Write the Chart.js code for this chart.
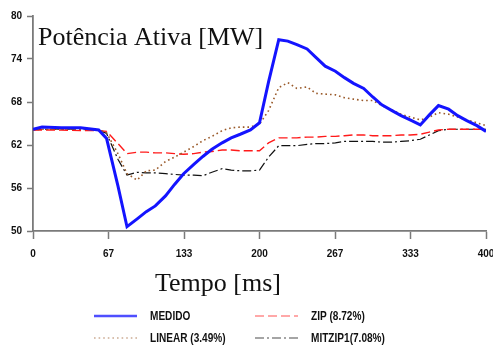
<!DOCTYPE html>
<html>
<head>
<meta charset="utf-8">
<script src="https://cdn.jsdelivr.net/npm/chart.js@4.4.1/dist/chart.umd.min.js"></script>
<style>
  html, body { margin: 0; padding: 0; background: #ffffff; }
  #wrap { width: 493px; height: 347px; position: relative; }
</style>
</head>
<body>
<div id="wrap"><canvas id="chart" width="493" height="347"></canvas></div>
<script>
// Time axis (ms)
const tempo = [0, 8, 25, 42, 58, 65, 75, 83, 92, 100, 108, 117, 125, 133, 142, 150, 158, 167, 175, 183, 192, 200, 208, 217, 225, 233, 242, 250, 258, 267, 275, 283, 292, 300, 308, 317, 325, 333, 342, 350, 358, 367, 375, 383, 392, 400];

// Active power (MW)
const medido = [64.2, 64.5, 64.4, 64.4, 64.1, 62.9, 56.3, 50.6, 51.7, 52.7, 53.5, 54.9, 56.5, 58.0, 59.3, 60.4, 61.4, 62.3, 63.0, 63.5, 64.1, 65.1, 70.8, 76.7, 76.5, 76.0, 75.4, 74.2, 73.0, 72.3, 71.4, 70.6, 69.9, 68.7, 67.6, 66.8, 66.1, 65.5, 64.8, 66.2, 67.5, 67.0, 66.1, 65.4, 64.7, 63.9];
const linear = [64.1, 64.2, 64.2, 64.2, 64.1, 63.7, 60.8, 58.0, 57.1, 58.4, 58.5, 59.7, 60.3, 61.0, 61.8, 62.6, 63.2, 64.0, 64.4, 64.5, 64.5, 64.9, 66.8, 70.0, 70.7, 69.9, 70.1, 69.2, 69.1, 69.0, 68.6, 68.4, 68.2, 68.2, 67.5, 66.9, 66.3, 65.9, 65.5, 65.9, 66.5, 66.3, 65.9, 65.5, 65.1, 64.7];
const zip = [64.1, 64.1, 64.1, 64.0, 64.0, 63.9, 62.2, 60.8, 61.0, 61.0, 60.9, 60.9, 60.8, 60.7, 60.8, 61.0, 61.1, 61.3, 61.3, 61.2, 61.2, 61.2, 62.3, 63.0, 63.0, 63.0, 63.1, 63.1, 63.2, 63.2, 63.3, 63.4, 63.4, 63.3, 63.3, 63.3, 63.4, 63.4, 63.5, 63.8, 64.1, 64.2, 64.2, 64.2, 64.2, 64.2];
const mitzip1 = [64.1, 64.2, 64.2, 64.2, 64.1, 63.6, 60.0, 57.8, 58.2, 58.1, 58.1, 58.0, 57.9, 57.8, 57.8, 57.7, 58.2, 58.7, 58.5, 58.4, 58.4, 58.5, 60.3, 61.9, 61.9, 61.9, 62.1, 62.2, 62.2, 62.3, 62.5, 62.5, 62.5, 62.5, 62.4, 62.4, 62.5, 62.6, 62.8, 63.4, 64.0, 64.2, 64.2, 64.2, 64.2, 64.2];

// Series names and tick values
const seriesNames = ['MEDIDO', 'LINEAR (3.49%)', 'ZIP (8.72%)', 'MITZIP1(7.08%)'];
const xTicks = [0, 400 / 6, 800 / 6, 200, 1600 / 6, 2000 / 6, 400];
const yTicks = [50, 56, 62, 68, 74, 80];

const chartTitle = 'Potência Ativa [MW]';
const xTitle = 'Tempo [ms]';

const toXY = (vals) => vals.map((v, i) => ({ x: tempo[i], y: v }));

const AXIS = '#7a7a7a';
const TICK_FONT = { family: "'Liberation Sans Narrow', 'Arial Narrow', 'Liberation Sans', Arial, sans-serif", size: 10, weight: 'bold' };

const styles = [
  { color: '#1414ff', width: 3, dash: [] },
  { color: '#9a5a2a', width: 1.6, dash: [1.6, 3] },
  { color: '#ff1a1a', width: 1.4, dash: [9, 4] },
  { color: '#111111', width: 1.2, dash: [9, 3, 2, 3] }
];
const seriesData = [medido, linear, zip, mitzip1];

// Title inside the plot area, x-axis caption and two-column legend
const decorations = {
  id: 'decorations',
  afterDraw(chart) {
    const ctx = chart.ctx;
    const area = chart.chartArea;
    ctx.save();
    ctx.fillStyle = '#111111';
    ctx.textAlign = 'left';
    ctx.textBaseline = 'alphabetic';
    ctx.font = "26px 'Liberation Serif', 'Times New Roman', serif";
    ctx.fillText(chartTitle, area.left + 5, 45);

    ctx.textAlign = 'center';
    ctx.fillText(xTitle, 218, 291);

    const cols = [94, 255];
    const rows = [316, 338];
    ctx.font = "bold 12px 'Liberation Sans', Arial, sans-serif";
    ctx.textAlign = 'left';
    ctx.textBaseline = 'middle';
    const order = [0, 2, 1, 3];
    order.forEach((di, k) => {
      const cx = cols[k % 2];
      const cy = rows[Math.floor(k / 2)];
      const s = styles[di];
      ctx.beginPath();
      ctx.strokeStyle = s.color;
      ctx.globalAlpha = 0.75;
      ctx.lineWidth = di === 0 ? 2.5 : 1.2;
      ctx.setLineDash(s.dash);
      ctx.moveTo(cx, cy);
      ctx.lineTo(cx + 43, cy);
      ctx.stroke();
      ctx.globalAlpha = 1;
      ctx.setLineDash([]);
      ctx.fillStyle = '#111111';
      // condensed lettering
      ctx.save();
      ctx.translate(cx + 56, cy + 0.5);
      ctx.scale(0.84, 1.08);
      ctx.fillText(seriesNames[di], 0, 0);
      ctx.restore();
    });
    ctx.restore();
  }
};

new Chart(document.getElementById('chart'), {
  type: 'line',
  data: {
    datasets: seriesData.map((vals, i) => ({
      label: seriesNames[i],
      data: toXY(vals),
      borderColor: styles[i].color,
      borderWidth: styles[i].width,
      borderDash: styles[i].dash,
      pointRadius: 0,
      tension: 0,
      fill: false
    }))
  },
  options: {
    responsive: false,
    animation: false,
    events: [],
    layout: { padding: { left: 0, top: 16, right: 7, bottom: 86 } },
    plugins: { legend: { display: false }, tooltip: { enabled: false }, title: { display: false } },
    scales: {
      x: {
        type: 'linear',
        min: 0,
        max: 400,
        afterBuildTicks(scale) { scale.ticks = xTicks.map(v => ({ value: v })); },
        afterFit(scale) { scale.height = 30; scale.paddingLeft = 0; scale.paddingRight = 0; },
        ticks: {
          autoSkip: false,
          maxRotation: 0,
          padding: 9,
          color: '#111111',
          font: TICK_FONT,
          callback: (v) => String(Math.round(v))
        },
        grid: { drawOnChartArea: false, drawTicks: true, tickLength: 8, color: AXIS, tickWidth: 1.5 },
        border: { display: true, color: AXIS, width: 1.8 }
      },
      y: {
        type: 'linear',
        min: 50,
        max: 80,
        afterBuildTicks(scale) { scale.ticks = yTicks.map(v => ({ value: v })); },
        afterFit(scale) { scale.width = 33; scale.paddingTop = 0; scale.paddingBottom = 0; },
        ticks: {
          padding: 5,
          color: '#111111',
          font: TICK_FONT,
          callback: (v) => String(v)
        },
        grid: { drawOnChartArea: false, drawTicks: true, tickLength: 6, color: AXIS, tickWidth: 1.5 },
        border: { display: true, color: AXIS, width: 1.8 }
      }
    }
  },
  plugins: [decorations]
});
</script>
</body>
</html>
